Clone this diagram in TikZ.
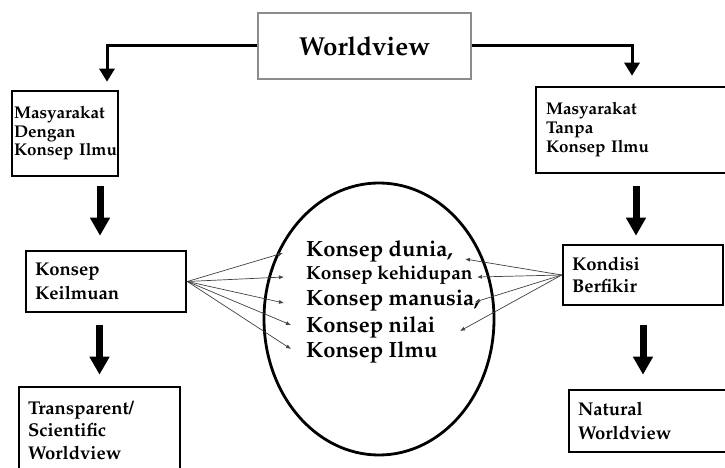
\documentclass[tikz,border=0pt]{standalone}
\usepackage[T1]{fontenc}
\renewcommand{\rmdefault}{ppl}
\usepackage{xcolor}
\usepackage{tikz}
\usetikzlibrary{
    arrows.meta,
    shapes.geometric
}

\begin{document}
\begin{tikzpicture}[
    x=1pt, y=-1pt,
    box/.style={
        rectangle,
        draw,
        line width=2.6pt,
        align=left,
        inner sep=0pt,
        font=\bfseries\fontsize{17}{18.5}\selectfont
    },
    topbox/.style={
        rectangle,
        draw=black!45,
        line width=1.2pt,
        inner sep=0pt,
        minimum width=213pt,
        minimum height=66pt,
        font=\bfseries\fontsize{26}{30}\selectfont
    },
    konsep/.style={
        anchor=base west,
        inner sep=0pt,
        font=\bfseries\fontsize{22}{26}\selectfont
    },
    elbow/.style={-{Triangle[length=13pt, width=15pt]}, line width=3pt},
    bigarrow/.style={-{Triangle[length=18pt, width=19pt]}, line width=7pt},
    thinarrow/.style={-{Latex[length=5pt, width=4pt]}, line width=0.7pt, draw=black!75}
]
\useasboundingbox (0,0) rectangle (725,468);

\node[topbox] (wv) at (364.5,46) {Worldview};

\node[box, minimum width=106pt, minimum height=85pt, text width=102pt]
    (mdk) at (65,133.5) {Masyarakat\\Dengan\\Konsep~Ilmu};
\node[box, minimum width=192pt, minimum height=86pt, text width=172pt,
    font=\bfseries\fontsize{17}{19}\selectfont]
    (mtk) at (632,130) {Masyarakat\\Tanpa\\Konsep Ilmu};

\node[box, minimum width=160pt, minimum height=61pt, text width=142pt,
    font=\bfseries\fontsize{18.5}{24}\selectfont]
    (kk) at (106,281.5) {Konsep\\Keilmuan};
\node[box, minimum width=160pt, minimum height=60pt, text width=142pt,
    font=\bfseries\fontsize{18.5}{22}\selectfont]
    (kb) at (643,275) {Kondisi\\Berfikir};

\node[box, minimum width=161pt, minimum height=86pt, text width=143pt,
    font=\bfseries\fontsize{18.5}{22.5}\selectfont]
    (tsw) at (99.5,430) {Transparent/\\Scientific\\Worldview};
\node[box, minimum width=159pt, minimum height=62pt, text width=141pt,
    font=\bfseries\fontsize{18.5}{24}\selectfont]
    (nw) at (648.5,421) {Natural\\Worldview};

% lingkaran konsep
\node[ellipse, draw, line width=2.8pt, inner sep=0pt,
    minimum width=230pt, minimum height=272pt] (circ) at (379,319) {};
\node[konsep] (dunia) at (306,256) {Konsep dunia,};
\node[konsep, font=\bfseries\fontsize{19}{23}\selectfont] (hidup) at (306,279) {Konsep kehidupan};
\node[konsep] (manusia) at (306,305) {Konsep manusia,};
\node[konsep] (nilai) at (306,332) {Konsep nilai};
\node[konsep] (ilmu) at (306,357) {Konsep Ilmu};

\coordinate (l1) at (283,253);
\coordinate (l2) at (284,277);
\coordinate (l3) at (284,303);
\coordinate (l4) at (291,325);
\coordinate (l5) at (291,349);
\coordinate (r1) at (465,259);
\coordinate (r2) at (477,277);
\coordinate (r3) at (475,302);
\coordinate (r4) at (460,331);

\draw[elbow, shorten >=8pt] (wv.west) -| ([xshift=42pt]mdk.north);
\draw[elbow, shorten >=10pt] (wv.east) -| (mtk.north);

\draw[bigarrow, shorten <=9pt, shorten >=14pt] ([xshift=35pt]mdk.south) -- ([xshift=-6pt]kk.north);
\draw[bigarrow, shorten <=12pt, shorten >=8pt] ([xshift=4pt]mtk.south) -- ([xshift=-7pt]kb.north);
\draw[bigarrow, shorten <=12pt, shorten >=11pt] (kk.south -| tsw.north) -- (tsw.north);
\draw[bigarrow, shorten <=19pt, shorten >=14pt] (kb.south) -- (kb.south |- nw.north);

\draw[thinarrow] (kk.east) -- (l1);
\draw[thinarrow] (kk.east) -- (l2);
\draw[thinarrow] (kk.east) -- (l3);
\draw[thinarrow] (kk.east) -- (l4);
\draw[thinarrow] (kk.east) -- (l5);

\draw[thinarrow] (kb.west) -- (r1);
\draw[thinarrow] (kb.west) -- (r2);
\draw[thinarrow] (kb.west) -- (r3);
\draw[thinarrow] (kb.west) -- (r4);

\end{tikzpicture}
\end{document}
